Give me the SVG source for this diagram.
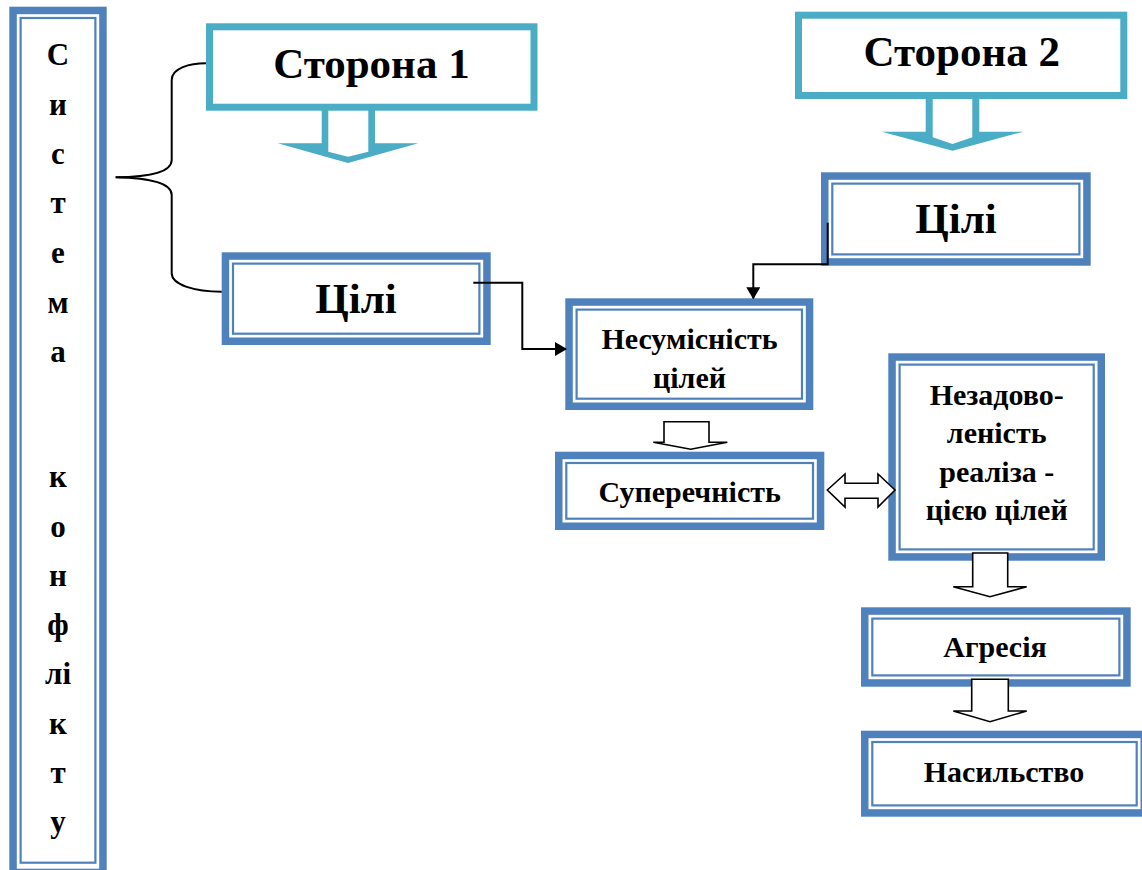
<svg xmlns="http://www.w3.org/2000/svg" width="1142" height="870" viewBox="0 0 1142 870">
<style>
.thick{fill:#fff;stroke:#4F81BD;stroke-width:7.5}
.thin{fill:none;stroke:#4F81BD;stroke-width:2.2}
.teal{fill:#fff;stroke:#4BACC6;stroke-width:7}
.tealfill{fill:#4BACC6;fill-rule:evenodd}
.t{font-family:"Liberation Serif","Times New Roman",serif;font-weight:bold;fill:#000;text-anchor:middle}
.big{font-size:43px}
.mid{font-size:30px}
.col{font-size:31px}
.conn{fill:none;stroke:#000;stroke-width:2}
.brace{fill:none;stroke:#000;stroke-width:2}
.block{fill:#fff;stroke:#000;stroke-width:1.6;stroke-linejoin:miter}
</style>
<defs>
<marker id="ah" viewBox="0 0 12 14" refX="11" refY="7" markerWidth="12" markerHeight="14" markerUnits="userSpaceOnUse" orient="auto">
<path d="M0,0 L12,7 L0,14 Z" fill="#000"/>
</marker>
</defs>

<g id="system">
<rect class="thick" x="13.05" y="10.45" width="89.9" height="862"/>
<rect class="thin" x="20.6" y="18" width="74.8" height="844.7"/>
<text class="t col" x="58" y="65">С</text>
<text class="t col" x="58" y="115">и</text>
<text class="t col" x="58" y="164">с</text>
<text class="t col" x="58" y="213">т</text>
<text class="t col" x="58" y="263">е</text>
<text class="t col" x="58" y="313">м</text>
<text class="t col" x="58" y="362">а</text>
<text class="t col" x="58" y="487">к</text>
<text class="t col" x="58" y="537">о</text>
<text class="t col" x="58" y="586">н</text>
<text class="t col" x="58" y="635">ф</text>
<text class="t col" x="58" y="684">лі</text>
<text class="t col" x="58" y="734">к</text>
<text class="t col" x="58" y="783">т</text>
<text class="t col" x="58" y="832">у</text>
</g>

<g id="side1">
<rect class="teal" x="209.5" y="26.8" width="324.5" height="80.4"/>
<text class="t big" x="371.4" y="78.3">Сторона 1</text>
</g>

<g id="side2">
<rect class="teal" x="798.5" y="15.2" width="325.3" height="80.3"/>
<text class="t big" x="961.7" y="65.7">Сторона 2</text>
</g>

<g id="goals1">
<rect class="thick" x="225.45" y="256.05" width="261.5" height="85.2"/>
<rect class="thin" x="233" y="263.6" width="246.4" height="70.1"/>
<text class="t big" x="356" y="313.3">Цілі</text>
</g>

<g id="goals2">
<rect class="thick" x="824.75" y="176.05" width="262.2" height="85.9"/>
<rect class="thin" x="832.3" y="183.6" width="247.1" height="70.8"/>
<text class="t big" x="956" y="233.3">Цілі</text>
</g>

<g id="incompat">
<rect class="thick" x="569.05" y="302.05" width="240.5" height="104.2"/>
<rect class="thin" x="576.6" y="309.6" width="225.4" height="89.1"/>
<text class="t mid" x="689.5" y="349.3">Несумісність</text>
<text class="t mid" x="689.5" y="387.7">цілей</text>
</g>

<g id="contradiction">
<rect class="thick" x="558.75" y="455.45" width="261.8" height="70.8"/>
<rect class="thin" x="566.3" y="463" width="246.7" height="55.7"/>
<text class="t mid" x="689.7" y="501.7">Суперечність</text>
</g>

<g id="dissatisfaction">
<rect class="thick" x="892.05" y="357.05" width="209.2" height="199.9"/>
<rect class="thin" x="899.6" y="364.6" width="194.1" height="184.8"/>
<text class="t mid" x="996.7" y="405">Незадово-</text>
<text class="t mid" x="996.7" y="443.3">леність</text>
<text class="t mid" x="996.7" y="481.7">реаліза -</text>
<text class="t mid" x="996.7" y="520">цією цілей</text>
</g>

<g id="aggression">
<rect class="thick" x="864.75" y="611.05" width="262.2" height="71.9"/>
<rect class="thin" x="872.3" y="618.6" width="247.1" height="56.8"/>
<text class="t mid" x="995" y="657.3">Агресія</text>
</g>

<g id="violence">
<rect class="thick" x="864.75" y="734.45" width="279.5" height="78.5"/>
<rect class="thin" x="872.3" y="742" width="264.4" height="63.4"/>
<text class="t mid" x="1004" y="781.7">Насильство</text>
</g>

<g id="connectors">
<path class="brace" d="M115.7,177.3 C150,177 171.7,172 171.7,160 L171.7,80 C171.7,68 190,63.3 206,63.3"/>
<path class="brace" d="M115.7,177.3 C150,178 171.7,183 171.7,195 L171.7,273.3 C171.7,285 195,291.7 221.7,291.7"/>
<path class="tealfill" d="M321.7,110 L321.7,143.3 L277.7,143.3 L348,163 L418.3,143.3 L375,143.3 L375,110 Z M328.3,110 L328.3,151.7 L348,156.7 L368.3,151.7 L368.3,110 Z"/>
<path class="tealfill" d="M925.7,98 L925.7,131.7 L881.7,131.7 L952.5,150.7 L1023.3,131.7 L979.3,131.7 L979.3,98 Z M932.7,98 L932.7,137.3 L952.5,144 L972.3,137.3 L972.3,98 Z"/>
<polyline class="conn" points="473.3,282.7 522.3,282.7 522.3,349 566,349" marker-end="url(#ah)"/>
<polyline class="conn" points="827.7,222.7 827.7,264.3 753.3,264.3 753.3,298.3" marker-end="url(#ah)"/>
<polygon class="block" points="664,421.7 709,421.7 709,442.3 727.3,442.3 690.7,449.3 653.3,442.3 664,442.3"/>
<polygon class="block" points="972.7,553 1007.7,553 1007.7,586.7 1026.7,586.7 990,596.7 953.3,586.7 972.7,586.7"/>
<polygon class="block" points="971.7,679.3 1008.3,679.3 1008.3,711 1026.7,711 990,721.7 953.3,711 971.7,711"/>
<polygon class="block" points="827.3,490 845,474 845,483.3 878,483.3 878,474 895,490 878,507 878,498.3 845,498.3 845,507"/>
</g>
</svg>
